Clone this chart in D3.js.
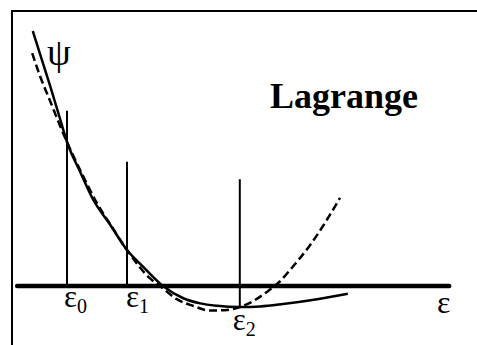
<!DOCTYPE html>
<html>
<head>
<meta charset="utf-8">
<script src="https://cdn.jsdelivr.net/npm/d3@7"></script>
<style>
  html, body { margin: 0; padding: 0; background: #fff; }
  svg { display: block; }
  svg text { font-family: "Times New Roman", Times, "Liberation Serif", "Noto Serif", "DejaVu Serif", FreeSerif, Tinos, serif; }
</style>
</head>
<body>
<div id="chart"></div>
<script>
// True function ψ(ε): sampled points [ε, ψ]
const solidCurve = [
  [0.43, 4.25], [0.55, 3.87], [0.72, 3.33], [0.88, 2.80], [1.00, 2.40],
  [1.22, 1.90], [1.43, 1.45], [1.72, 1.02], [2.00, 0.60], [2.27, 0.32],
  [2.60, 0.00], [2.93, -0.20], [3.22, -0.29], [3.50, -0.33], [3.88, -0.35],
  [4.22, -0.34], [4.60, -0.30], [5.17, -0.22], [5.68, -0.13]
];

// Lagrange interpolating parabola through the three nodes
const lagrangeCurve = [
  [0.42, 3.88], [0.55, 3.50], [0.72, 3.08], [0.88, 2.68], [1.00, 2.40],
  [1.22, 1.93], [1.50, 1.38], [1.72, 1.03], [2.00, 0.60], [2.38, 0.13],
  [2.55, 0.00], [2.83, -0.22], [3.10, -0.33], [3.38, -0.41], [3.67, -0.40],
  [3.88, -0.35], [4.05, -0.28], [4.33, -0.10], [4.52, 0.05], [4.77, 0.33],
  [5.05, 0.68], [5.33, 1.10], [5.55, 1.47]
];

// Interpolation nodes ε0, ε1, ε2
const nodeLabels = ["0", "1", "2"];
const nodeEps = [1.00, 2.00, 3.88];
const nodeTop = [2.92, 2.07, 1.78];
const nodeBottom = [0, 0, -0.35];

// Horizontal ε axis extent
const axisExtent = [0.17, 7.37];

const W = 477, H = 345;
const svg = d3.select("#chart").append("svg")
  .attr("width", W).attr("height", H);

const x = d3.scaleLinear().domain([0, 8]).range([7, 487]);
const y = d3.scaleLinear().domain([-1, 4.5]).range([346, 16]);

// frame (top and left edges)
svg.append("path")
  .attr("d", "M12,345 V11 H477")
  .attr("fill", "none").attr("stroke", "#000").attr("stroke-width", 2);

// ε axis
svg.append("line")
  .attr("x1", x(axisExtent[0])).attr("x2", x(axisExtent[1]))
  .attr("y1", y(0)).attr("y2", y(0))
  .attr("stroke", "#000").attr("stroke-width", 4.5)
  .attr("stroke-linecap", "round");

// node markers
svg.selectAll("line.node").data(nodeEps).join("line")
  .attr("class", "node")
  .attr("x1", d => x(d)).attr("x2", d => x(d))
  .attr("y1", (d, i) => y(nodeTop[i]))
  .attr("y2", (d, i) => y(nodeBottom[i]))
  .attr("stroke", "#000").attr("stroke-width", 2);

const line = d3.line()
  .x(d => x(d[0])).y(d => y(d[1]))
  .curve(d3.curveMonotoneX);

svg.append("path").datum(solidCurve)
  .attr("d", line)
  .attr("fill", "none").attr("stroke", "#000").attr("stroke-width", 2.5);

svg.append("path").datum(lagrangeCurve)
  .attr("d", line)
  .attr("fill", "none").attr("stroke", "#000").attr("stroke-width", 2.5)
  .attr("stroke-dasharray", "8,4");

// node labels ε with subscripts
const labelDx = [-3, -1, -7];
const labelY = [307, 307, 330];
const lab = svg.selectAll("text.nlab").data(nodeEps).join("text")
  .attr("class", "nlab")
  .attr("x", (d, i) => x(d) + labelDx[i])
  .attr("y", (d, i) => labelY[i])
  .attr("font-size", 31);
lab.append("tspan").text("ε");
lab.append("tspan").attr("dy", 6).attr("font-size", 20).text((d, i) => nodeLabels[i]);

// axis label
svg.append("text")
  .attr("x", 437).attr("y", 313)
  .attr("font-size", 32).text("ε");

// ψ label
svg.append("text")
  .attr("x", 47).attr("y", 65)
  .attr("font-size", 38).text("ψ");

// title
svg.append("text")
  .attr("x", 270).attr("y", 108)
  .attr("font-size", 36).attr("font-weight", "bold")
  .text("Lagrange");
</script>
</body>
</html>
